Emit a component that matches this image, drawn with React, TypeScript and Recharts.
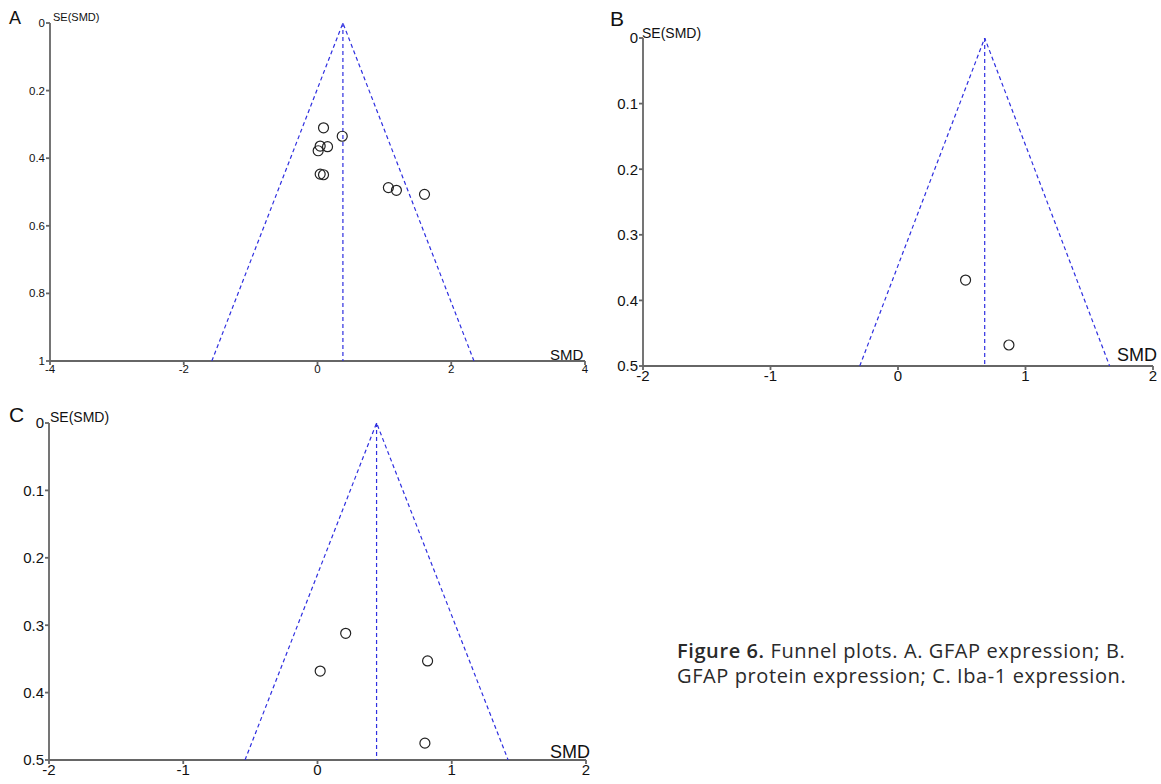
import React from "react";
import { ScatterChart, Scatter, XAxis, YAxis } from "recharts";

// Panel A: GFAP expression
const A_SMD = [0.09, 0.37, 0.04, 0.15, 0.01, 0.04, 0.09, 1.06, 1.18, 1.6];
const A_SE = [0.31, 0.335, 0.364, 0.366, 0.378, 0.447, 0.449, 0.487, 0.495, 0.507];
const A_POOLED = 0.38;
const A_LIMITS = [-1.58, 2.34];
const A_X_TICKS = [-4, -2, 0, 2, 4];
const A_Y_TICKS = [0, 0.2, 0.4, 0.6, 0.8, 1];

// Panel B: GFAP protein expression
const B_SMD = [0.53, 0.87];
const B_SE = [0.369, 0.468];
const B_POOLED = 0.68;
const B_LIMITS = [-0.3, 1.66];
const B_X_TICKS = [-2, -1, 0, 1, 2];
const B_Y_TICKS = [0, 0.1, 0.2, 0.3, 0.4, 0.5];

// Panel C: Iba-1 expression
const C_SMD = [0.21, 0.02, 0.82, 0.8];
const C_SE = [0.312, 0.368, 0.353, 0.475];
const C_POOLED = 0.44;
const C_LIMITS = [-0.54, 1.42];
const C_X_TICKS = [-2, -1, 0, 1, 2];
const C_Y_TICKS = [0, 0.1, 0.2, 0.3, 0.4, 0.5];

const FONT = "'Liberation Sans', Arial, sans-serif";
const BLUE = "#2f2fe0";
const AXIS = "#666";

interface PanelProps {
  smd: number[];
  se: number[];
  pooled: number;
  limits: number[];
  xTicks: number[];
  yTicks: number[];
  width: number;
  height: number;
  margin: { top: number; right: number; left: number; bottom: number };
  yWidth: number;
  xHeight: number;
  fontSize: number;
}

const circle = (props: any) => (
  <circle cx={props.cx} cy={props.cy} r={5} fill="none" stroke="#222" strokeWidth={1.2} />
);
const nothing = () => <g />;

function FunnelPanel(p: PanelProps) {
  const seMax = p.yTicks[p.yTicks.length - 1];
  const points = p.smd.map((x, i) => ({ x, y: p.se[i] }));
  const funnel = [
    { x: p.limits[0], y: seMax },
    { x: p.pooled, y: 0 },
    { x: p.limits[1], y: seMax },
  ];
  const center = [
    { x: p.pooled, y: 0 },
    { x: p.pooled, y: seMax },
  ];
  const tick = { fontSize: p.fontSize, fill: "#111", fontFamily: FONT };
  return (
    <ScatterChart width={p.width} height={p.height} margin={p.margin}>
      <XAxis
        type="number"
        dataKey="x"
        domain={[p.xTicks[0], p.xTicks[p.xTicks.length - 1]]}
        ticks={p.xTicks}
        interval={0}
        height={p.xHeight}
        tick={tick}
        tickSize={4}
        tickMargin={0}
        stroke={AXIS}
        strokeWidth={1.8}
        allowDataOverflow
      />
      <YAxis
        type="number"
        dataKey="y"
        reversed
        domain={[0, seMax]}
        ticks={p.yTicks}
        interval={0}
        width={p.yWidth}
        tick={tick}
        tickSize={4}
        tickMargin={1}
        stroke={AXIS}
        strokeWidth={1.8}
        allowDataOverflow
      />
      <Scatter
        data={funnel}
        line={{ stroke: BLUE, strokeWidth: 1.2, strokeDasharray: "4 3" }}
        shape={nothing}
        isAnimationActive={false}
      />
      <Scatter
        data={center}
        line={{ stroke: BLUE, strokeWidth: 1.2, strokeDasharray: "4 3" }}
        shape={nothing}
        isAnimationActive={false}
      />
      <Scatter data={points} shape={circle} isAnimationActive={false} />
    </ScatterChart>
  );
}

function Label({ x, y, size, children, weight }: any) {
  return (
    <div
      style={{
        position: "absolute",
        left: x,
        top: y,
        fontSize: size,
        fontFamily: FONT,
        fontWeight: weight || 400,
        color: "#111",
        lineHeight: 1,
        whiteSpace: "nowrap",
      }}
    >
      {children}
    </div>
  );
}

export default function App() {
  return (
    <div style={{ position: "absolute", left: 0, top: 0, width: 1161, height: 784, background: "#fff", overflow: "hidden" }}>
      <div style={{ position: "absolute", left: 0, top: 0 }}>
        <FunnelPanel
          smd={A_SMD}
          se={A_SE}
          pooled={A_POOLED}
          limits={A_LIMITS}
          xTicks={A_X_TICKS}
          yTicks={A_Y_TICKS}
          width={620}
          height={390}
          margin={{ top: 23, right: 35, left: 0, bottom: 4 }}
          yWidth={50}
          xHeight={25}
          fontSize={11.5}
        />
      </div>
      <div style={{ position: "absolute", left: 593, top: 0 }}>
        <FunnelPanel
          smd={B_SMD}
          se={B_SE}
          pooled={B_POOLED}
          limits={B_LIMITS}
          xTicks={B_X_TICKS}
          yTicks={B_Y_TICKS}
          width={568}
          height={395}
          margin={{ top: 38, right: 8, left: 0, bottom: 7 }}
          yWidth={50}
          xHeight={22}
          fontSize={15}
        />
      </div>
      <div style={{ position: "absolute", left: 0, top: 385 }}>
        <FunnelPanel
          smd={C_SMD}
          se={C_SE}
          pooled={C_POOLED}
          limits={C_LIMITS}
          xTicks={C_X_TICKS}
          yTicks={C_Y_TICKS}
          width={620}
          height={399}
          margin={{ top: 38, right: 34, left: 0, bottom: 2 }}
          yWidth={49}
          xHeight={22}
          fontSize={15}
        />
      </div>

      <Label x={9} y={9} size={18}>A</Label>
      <Label x={53} y={12} size={11}>SE(SMD)</Label>
      <Label x={550} y={347} size={15}>SMD</Label>

      <Label x={610} y={8} size={21}>B</Label>
      <Label x={642} y={26} size={14}>SE(SMD)</Label>
      <Label x={1117} y={346} size={18}>SMD</Label>

      <Label x={9} y={404} size={21}>C</Label>
      <Label x={50} y={410} size={14}>SE(SMD)</Label>
      <Label x={550} y={743} size={18}>SMD</Label>

      <div
        style={{
          position: "absolute",
          left: 677,
          top: 638,
          fontFamily: "'Open Sans', 'Liberation Sans', sans-serif",
          fontSize: 20,
          letterSpacing: 0.6,
          lineHeight: "25px",
          color: "#2a2a2a",
          whiteSpace: "nowrap",
        }}
      >
        <div>
          <span style={{ fontWeight: 600 }}>Figure 6.</span> Funnel plots. A. GFAP expression; B.
        </div>
        <div>GFAP protein expression; C. Iba-1 expression.</div>
      </div>
    </div>
  );
}
